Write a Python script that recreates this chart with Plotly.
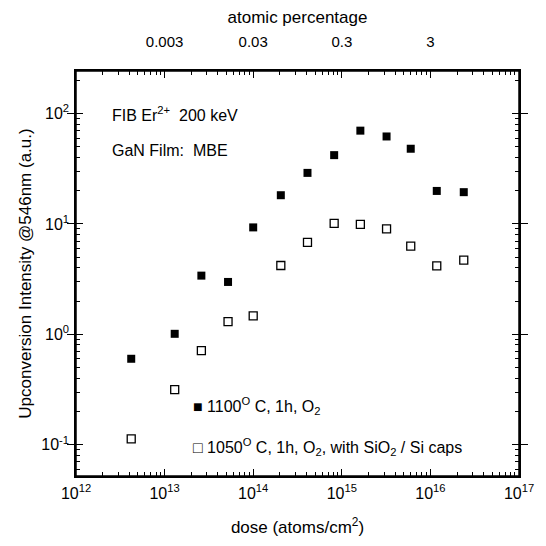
import plotly.graph_objects as go
import numpy as np

# ---- data ----
dose = [4.2e12, 1.3e13, 2.6e13, 5.2e13, 1.0e14, 2.05e14, 4.1e14, 8.2e14,
        1.62e15, 3.2e15, 6.0e15, 1.18e16, 2.38e16]
intensity_1100 = [0.60, 1.01, 3.4, 2.98, 9.3, 18.2, 29.0, 42.0,
                  70.0, 62.0, 48.0, 19.9, 19.4]
intensity_1050 = [0.113, 0.315, 0.71, 1.30, 1.47, 4.2, 6.8, 10.1,
                  9.9, 9.0, 6.3, 4.17, 4.69]

x_exponents = [12, 13, 14, 15, 16, 17]
y_exponents = [-1, 0, 1, 2]
top_tick_dose = [1e13, 1e14, 1e15, 1e16]
top_tick_labels = ["0.003", "0.03", "0.3", "3"]

x_range = [12, 17]
y_range = [np.log10(0.052), np.log10(243)]

FONT = "Liberation Sans, Arial, Helvetica, sans-serif"

x_major = [10.0 ** e for e in x_exponents]
x_major_text = [f"10<sup>{e}</sup>" for e in x_exponents]
y_major = [10.0 ** e for e in y_exponents]
y_major_text = [f"10<sup>{e}</sup>" for e in y_exponents]
x_minor = [m * 10.0 ** e for e in range(12, 17) for m in range(2, 10)]
y_minor = [m * 10.0 ** e for e in range(-2, 3) for m in range(2, 10)]

# page body has an 8px margin: figure is placed at (8, 8) in the window
OFF = 8
W = H = 546 - OFF
PL, PR, PT, PB = 76 - OFF, 519 - OFF, 71 - OFF, 476 - OFF  # plot area in figure px

fig = go.Figure()
fig.add_trace(go.Scatter(
    x=dose, y=intensity_1100, mode="markers",
    marker=dict(symbol="square", size=8, color="black"),
    showlegend=False))
fig.add_trace(go.Scatter(
    x=dose, y=intensity_1050, mode="markers",
    marker=dict(symbol="square-open", size=8, color="black", line=dict(width=1.3)),
    showlegend=False))
# invisible traces to anchor the extra (tick-only) axes
for xa, ya in [("x2", "y"), ("x3", "y2"), ("x4", "y3")]:
    fig.add_trace(go.Scatter(x=dose, y=intensity_1100, xaxis=xa, yaxis=ya, mode="markers",
                             marker=dict(opacity=0), showlegend=False, hoverinfo="skip"))

common = dict(showgrid=False, zeroline=False, tickcolor="black", tickwidth=1, automargin=False)

fig.update_layout(
    width=W, height=H,
    margin=dict(l=PL, r=W - PR, t=PT, b=H - PB),
    paper_bgcolor="white", plot_bgcolor="white",
    font=dict(family=FONT, size=16, color="black"),
    xaxis=dict(
        type="log", range=x_range, tickmode="array", tickvals=x_major, ticktext=x_major_text,
        showline=True, linecolor="black", linewidth=1.5, mirror=True,
        ticks="inside", ticklen=7, tickfont=dict(size=16), ticklabelstandoff=2,
        title=dict(text="dose (atoms/cm<sup>2</sup>)", font=dict(size=17), standoff=20),
        **common),
    xaxis2=dict(
        type="log", range=x_range, overlaying="x", side="top",
        tickmode="array", tickvals=top_tick_dose, ticktext=top_tick_labels,
        showline=False, ticks="inside", ticklen=7, tickfont=dict(size=15),
        ticklabelstandoff=20,
        title=dict(text="atomic percentage", font=dict(size=17), standoff=5),
        **common),
    xaxis3=dict(
        type="log", range=x_range, overlaying="x", side="bottom", anchor="y",
        tickmode="array", tickvals=x_minor, showticklabels=False,
        ticks="inside", ticklen=4, showline=False, **common),
    xaxis4=dict(
        type="log", range=x_range, overlaying="x", side="top", anchor="y",
        tickmode="array", tickvals=x_minor, showticklabels=False,
        ticks="inside", ticklen=4, showline=False, **common),
    yaxis=dict(
        type="log", range=y_range, tickmode="array", tickvals=y_major, ticktext=y_major_text,
        showline=True, linecolor="black", linewidth=1.5, mirror="allticks",
        ticks="inside", ticklen=7, tickfont=dict(size=16), ticklabelstandoff=2,
        title=dict(text="Upconversion Intensity @546nm (a.u.)", font=dict(size=17), standoff=5),
        **common),
    yaxis2=dict(
        type="log", range=y_range, overlaying="y", side="left", anchor="x",
        tickmode="array", tickvals=y_minor, showticklabels=False,
        ticks="inside", ticklen=4, showline=False, **common),
    yaxis3=dict(
        type="log", range=y_range, overlaying="y", side="right", anchor="x",
        tickmode="array", tickvals=y_minor, showticklabels=False,
        ticks="inside", ticklen=4, showline=False, **common),
    shapes=[dict(type="rect", xref="paper", yref="paper", x0=0, x1=1, y0=0, y1=1,
                 line=dict(color="black", width=1.5), layer="above")],
)

ann = [
    dict(text="FIB Er<sup>2+</sup>  200 keV", x=110, y=114),
    dict(text="GaN Film:  MBE", x=110, y=150),
    dict(text="■ 1100<sup>O</sup> C, 1h, O<sub>2</sub>", x=191, y=406),
    dict(text="□ 1050<sup>O</sup> C, 1h, O<sub>2</sub>, with SiO<sub>2</sub> / Si caps", x=191, y=447),
]
for a in ann:
    fig.add_annotation(
        text=a["text"], xref="paper", yref="paper",
        x=(a["x"] - 76) / 443, y=(476 - a["y"]) / 405,
        xanchor="left", yanchor="middle", showarrow=False,
        font=dict(family=FONT, size=16, color="black"))

fig.write_html("out.html")
